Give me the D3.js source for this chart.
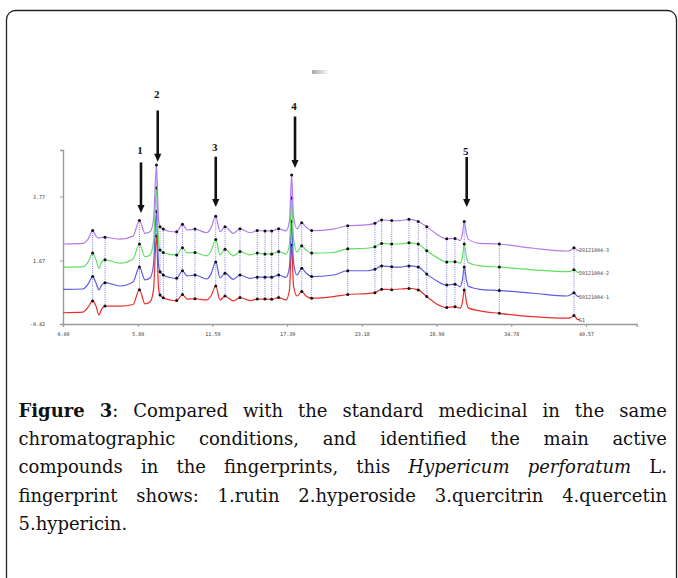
<!DOCTYPE html>
<html>
<head>
<meta charset="utf-8">
<script src="https://cdnjs.cloudflare.com/ajax/libs/d3/7.8.5/d3.min.js"></script>
<style>
    html, body { margin:0; padding:0; background:#fff; }
    svg { display:block; }
</style>
</head>
<body>
<svg id="svg__container" width="678" height="578"></svg>
<script>
// retention time (min), shared by all four chromatograms
const times=[0.00,1.55,1.96,2.30,2.56,2.79,3.00,3.26,4.42,5.43,5.93,6.36,6.75,7.02,7.25,7.41,7.53,7.78,8.30,8.82,
    9.27,9.62,10.24,11.15,11.48,11.85,12.18,12.57,13.21,13.73,14.51,15.07,15.67,16.19,16.73,17.30,17.57,17.74,17.88,18.15,
    18.52,18.85,19.29,20.97,22.09,23.56,24.20,24.72,25.50,26.14,26.84,27.56,28.22,28.99,29.77,30.41,30.80,30.99,31.13,31.30,
    31.44,32.35,33.85,36.49,39.08,39.41,39.64,39.88,40.11];

// signal of each sample (stacked as shown)
const sampleS1=[-0.05,-0.03,0.14,0.34,0.17,-0.12,0.07,0.17,0.17,0.22,0.71,0.24,0.30,0.70,2.47,0.76,0.53,0.44,0.37,0.35,
    0.55,0.40,0.41,0.37,0.50,0.83,0.37,0.50,0.34,0.45,0.35,0.40,0.40,0.39,0.45,0.37,0.70,2.18,0.86,0.50,
    0.65,0.50,0.43,0.48,0.55,0.58,0.61,0.72,0.71,0.73,0.75,0.70,0.48,0.24,0.12,0.15,0.10,0.30,0.70,0.30,
    0.11,0.01,-0.07,-0.18,-0.23,-0.21,-0.14,-0.26,-0.29];
const sample1=[0.72,0.73,0.90,1.14,0.93,0.70,0.86,0.94,0.83,0.96,1.45,1.03,1.09,1.52,3.28,1.52,1.30,1.19,1.11,1.08,
    1.33,1.16,1.19,1.06,1.22,1.62,1.10,1.25,1.05,1.19,1.08,1.12,1.12,1.12,1.19,1.11,1.46,2.95,1.62,1.19,
    1.41,1.26,1.14,1.19,1.33,1.33,1.38,1.49,1.46,1.45,1.49,1.45,1.22,1.00,0.86,0.89,0.81,1.03,1.45,1.03,
    0.83,0.72,0.68,0.59,0.50,0.55,0.61,0.50,0.48];
const sample2=[1.45,1.46,1.62,1.91,1.69,1.41,1.62,1.69,1.58,1.72,2.21,1.79,1.85,2.28,4.05,2.28,2.01,1.93,1.87,1.85,
    2.09,1.92,1.93,1.82,1.98,2.36,1.85,2.04,1.82,1.96,1.85,1.91,1.88,1.88,1.96,1.88,2.21,3.72,2.38,1.95,
    2.15,2.01,1.91,1.93,2.05,2.07,2.12,2.23,2.21,2.21,2.25,2.21,1.99,1.77,1.62,1.63,1.58,1.78,2.21,1.78,
    1.60,1.49,1.45,1.36,1.30,1.32,1.36,1.29,1.27];
const sample3=[2.21,2.23,2.38,2.65,2.47,2.40,2.43,2.43,2.37,2.47,2.98,2.56,2.61,3.00,4.81,3.03,2.78,2.70,2.62,2.61,
    2.86,2.67,2.70,2.58,2.74,3.12,2.62,2.78,2.56,2.71,2.58,2.65,2.64,2.64,2.71,2.64,2.97,4.48,3.13,2.71,
    2.91,2.77,2.65,2.70,2.81,2.84,2.89,3.00,2.98,2.98,3.02,2.95,2.78,2.53,2.38,2.39,2.32,2.54,2.95,2.54,
    2.37,2.23,2.21,2.07,1.98,2.01,2.09,2.01,2.00];

const sampleNames=["S1","20121004-1","20121004-2","20121004-3"];
const sampleColors=["#e8302c","#5b5be6","#5fe05f","#b57af0"];

// matched common peaks (min)
const markTimes=[2.30,3.26,5.93,7.25,7.53,7.78,8.82,9.27,10.24,11.85,12.57,13.73,15.07,15.67,16.19,16.73,17.74,
    18.52,19.29,22.09,24.20,24.72,25.50,26.84,27.56,28.22,29.77,30.41,31.13,33.85,39.64];

// identified compounds: arrow time, arrow tail / tip and number height (signal units)
const compoundNo=["1","2","3","4","5"];
const arrowTimes=[6.05,7.35,11.85,18.00,31.32];
const arrowTops=[4.89,6.60,5.08,6.40,5.07];
const arrowTips=[3.23,4.91,3.43,4.71,3.43];
const labelValues=[5.30,7.15,5.38,6.75,5.25];

const xTickValues=[0.00,5.80,11.59,17.39,23.18,28.98,34.78,40.57];
const xTickLabels=["0.00","5.80","11.59","17.39","23.18","28.98","34.78","40.57"];
const yTickValues=[-0.42,1.67,3.77];
const yTickLabels=["-0.42","1.67","3.77"];

const captionLines=[
    "<b>Figure</b> <b>3</b>: Compared with the standard medicinal in the same",
    "chromatographic conditions, and identified the main active",
    "compounds in the fingerprints, this <i>Hypericum</i> <i>perforatum</i> L.",
    "fingerprint shows: 1.rutin 2.hyperoside 3.quercitrin 4.quercetin",
    "5.hypericin."
];

const svgTag=d3.select("#svg__container");

// rounded frame
svgTag.append("rect")
    .attr("x",6.5).attr("y",10.5).attr("width",670).attr("height",640).attr("rx",9)
    .attr("fill","none").attr("stroke","#222").attr("stroke-width",1.3);

// small grey smudge above the chart
const grad=svgTag.append("defs").append("linearGradient").attr("id","smudge");
grad.append("stop").attr("offset","0%").attr("stop-color","#a8a8a8");
grad.append("stop").attr("offset","100%").attr("stop-color","#fff");
svgTag.append("rect").attr("x",312).attr("y",70).attr("width",18).attr("height",4).attr("fill","url(#smudge)");

const x=d3.scaleLinear().domain([0,44.5]).range([63,636.6]);
const y=d3.scaleLinear().domain([-0.42,5.30]).range([324,150]);

const chartG=svgTag.append("g");

// axes
const xAxis=chartG.append("g")
    .attr("transform","translate(0,324)")
    .call(d3.axisBottom(x).tickValues(xTickValues).tickFormat((d,i)=>xTickLabels[i]).tickSize(3).tickPadding(5));
const yAxis=chartG.append("g")
    .attr("transform","translate(63,0)")
    .call(d3.axisLeft(y).tickValues(yTickValues).tickFormat((d,i)=>yTickLabels[i]).tickSize(3).tickPadding(15));
[xAxis,yAxis].forEach(axis=>{
    axis.select(".domain").attr("stroke","#9a9a9a").attr("stroke-width",1.4);
    axis.selectAll(".tick line").attr("stroke","#9a9a9a");
    axis.selectAll(".tick text")
        .attr("font-family","'DejaVu Sans Mono', monospace").attr("font-size",5)
        .attr("fill","#333");
});

const samples=[sampleS1,sample1,sample2,sample3];

// dotted connectors between matched peaks
const markIndex=markTimes.map(t=>times.indexOf(t));
chartG.append("g").selectAll("line")
    .data(markIndex)
    .join("line")
    .attr("x1",i=>x(times[i])).attr("x2",i=>x(times[i]))
    .attr("y1",i=>y(sample3[i])).attr("y2",i=>y(sampleS1[i]))
    .attr("stroke","#5a5ae0").attr("stroke-width",0.8)
    .attr("stroke-dasharray","1,1.2");

const line=d3.line()
    .x((d,i)=>x(times[i]))
    .y(d=>y(d))
    .curve(d3.curveMonotoneX);

samples.forEach((values,k)=>{
    chartG.append("path")
        .attr("d",line(values))
        .attr("fill","none")
        .attr("stroke",sampleColors[k])
        .attr("stroke-width",1.2);

    chartG.append("g").selectAll("circle")
        .data(markIndex)
        .join("circle")
        .attr("cx",i=>x(times[i])).attr("cy",i=>y(values[i]))
        .attr("r",1.5).attr("fill","#111");

    const last=values.length-1;
    chartG.append("text")
        .attr("x",x(times[last])-1).attr("y",y(values[last])+2)
        .attr("font-family","'DejaVu Sans Mono', monospace").attr("font-size",5)
        .attr("fill","#444")
        .text(sampleNames[k]);
});

// arrows for the identified compounds
compoundNo.forEach((no,k)=>{
    const ax=x(arrowTimes[k]);
    const tipY=y(arrowTips[k]);
    chartG.append("line")
        .attr("x1",ax).attr("x2",ax)
        .attr("y1",y(arrowTops[k])).attr("y2",tipY-6)
        .attr("stroke","#111").attr("stroke-width",2.6);
    chartG.append("path")
        .attr("d",`M${ax-3.6},${tipY-8}L${ax+3.6},${tipY-8}L${ax},${tipY}Z`)
        .attr("fill","#111");
    chartG.append("text")
        .attr("x",ax-1).attr("y",y(labelValues[k]))
        .attr("dy","0.35em").attr("text-anchor","middle")
        .attr("font-family","'Liberation Serif', serif").attr("font-weight","bold").attr("font-size",11)
        .attr("fill","#111")
        .text(no);
});

// caption, justified like the source
const capLeft=18.5, capRight=667, capTop=417, capStep=28.2, capSize=18;
captionLines.forEach((lineText,li)=>{
    const words=lineText.split(" ");
    const nodes=words.map(word=>{
        const t=svgTag.append("text")
            .attr("y",capTop+li*capStep)
            .attr("font-family","'DejaVu Serif', serif").attr("font-size",capSize)
            .attr("fill","#111");
        const parts=word.split(/(<[bi]>.*?<\/[bi]>)/).filter(s=>s.length);
        parts.forEach(p=>{
            const m=p.match(/^<([bi])>(.*)<\/[bi]>$/);
            const span=t.append("tspan").text(m ? m[2] : p);
            if (m && m[1]==="b") span.attr("font-weight","bold");
            if (m && m[1]==="i") span.attr("font-style","italic");
        });
        return t;
    });
    const widths=nodes.map(n=>n.node().getComputedTextLength());
    const total=d3.sum(widths);
    const isLast=li===captionLines.length-1;
    const gap=isLast ? capSize*0.3 : (capRight-capLeft-total)/(words.length-1);
    let cx=capLeft;
    nodes.forEach((n,i)=>{
        n.attr("x",cx);
        cx+=widths[i]+gap;
    });
});
</script>
</body>
</html>
